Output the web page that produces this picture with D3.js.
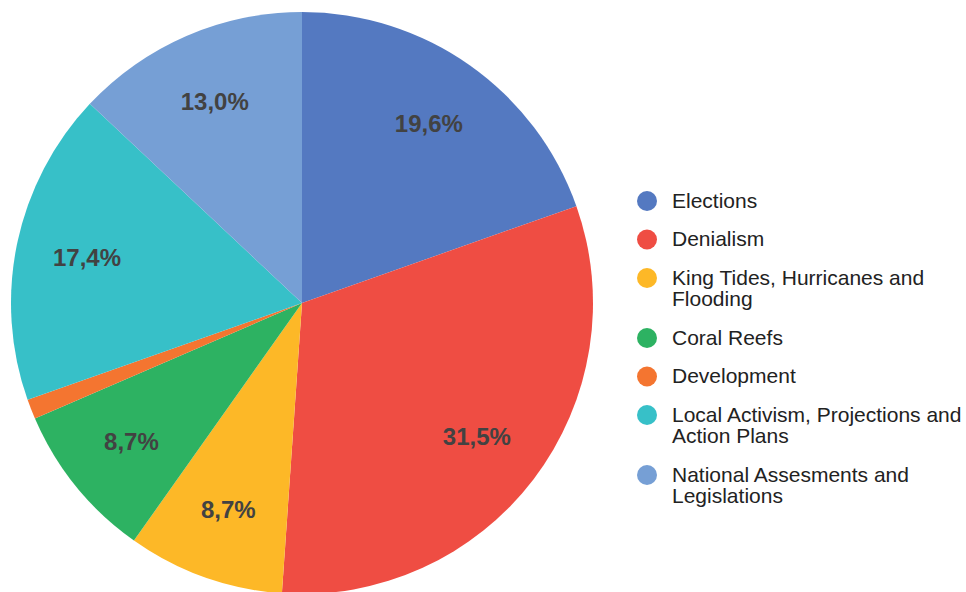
<!DOCTYPE html>
<html>
<head>
<meta charset="utf-8">
<script src="https://cdn.jsdelivr.net/npm/d3@7"></script>
<style>
  html, body { margin: 0; padding: 0; background: #fff; }
  svg { display: block; font-family: "Liberation Sans", Arial, sans-serif; }
</style>
</head>
<body>
<svg id="chart" width="966" height="592"></svg>
<script>
// Share of coverage by topic (percent)
const categories = [
  "Elections",
  "Denialism",
  "King Tides, Hurricanes and Flooding",
  "Coral Reefs",
  "Development",
  "Local Activism, Projections and Action Plans",
  "National Assesments and Legislations"
];
const values = [19.6, 31.5, 8.7, 8.7, 1.1, 17.4, 13.0];
const legendLines = [
  ["Elections"],
  ["Denialism"],
  ["King Tides, Hurricanes and", "Flooding"],
  ["Coral Reefs"],
  ["Development"],
  ["Local Activism, Projections and", "Action Plans"],
  ["National Assesments and", "Legislations"]
];
const colors = ["#5479C1", "#EF4D43", "#FDB827", "#2DB262", "#F47530", "#37C0C8", "#769FD5"];

const svg = d3.select("#chart");
const cx = 302, cy = 303, radius = 291;

const color = d3.scaleOrdinal().domain(categories).range(colors);
const data = categories.map((c, i) => ({ category: c, value: values[i], lines: legendLines[i] }));

const pie = d3.pie().value(d => d.value).sort(null);
const arc = d3.arc().innerRadius(0).outerRadius(radius);
const labelArc = d3.arc().innerRadius(radius * 0.755).outerRadius(radius * 0.755);

const g = svg.append("g").attr("transform", `translate(${cx},${cy})`);
const arcs = pie(data);

g.selectAll("path.slice")
  .data(arcs)
  .join("path")
  .attr("class", "slice")
  .attr("d", arc)
  .attr("fill", d => color(d.data.category));

const fmt = v => v.toFixed(1).replace(".", ",") + "%";

// Percentage labels inside the larger slices
g.selectAll("text.pct")
  .data(arcs.filter(d => d.data.value >= 5))
  .join("text")
  .attr("class", "pct")
  .attr("transform", d => `translate(${labelArc.centroid(d)})`)
  .attr("text-anchor", "middle")
  .attr("dominant-baseline", "central")
  .attr("font-size", 24)
  .attr("font-weight", "bold")
  .attr("fill", "#424242")
  .text(d => fmt(d.data.value));

// Legend
const legend = svg.append("g").attr("transform", "translate(647,0)");
let y = 200;
data.forEach(d => {
  const item = legend.append("g").attr("transform", `translate(0,${y})`);
  item.append("circle").attr("r", 10).attr("cx", 0).attr("cy", 1).attr("fill", color(d.category));
  d.lines.forEach((line, j) => {
    item.append("text")
      .attr("x", 25)
      .attr("y", j * 21.5)
      .attr("dominant-baseline", "central")
      .attr("font-size", 21)
      .attr("fill", "#222")
      .text(line);
  });
  y += 38.5 + (d.lines.length - 1) * 21.5;
});
</script>
</body>
</html>
